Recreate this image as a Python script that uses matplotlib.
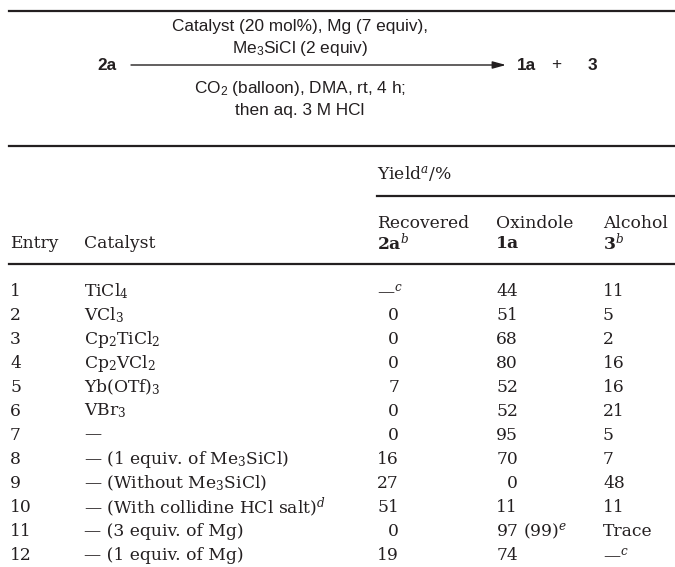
import matplotlib
matplotlib.use("Agg")
import matplotlib.pyplot as plt

plt.rcParams['mathtext.fontset'] = 'custom'
plt.rcParams['mathtext.rm'] = 'DejaVu Serif'
plt.rcParams['mathtext.it'] = 'DejaVu Serif:italic'
plt.rcParams['mathtext.bf'] = 'DejaVu Serif:bold'
plt.rcParams['mathtext.default'] = 'regular'

# Datos de la tabla
entries = [str(i) for i in range(1, 13)]
catalysts = ['TiCl$_4$', 'VCl$_3$', 'Cp$_2$TiCl$_2$', 'Cp$_2$VCl$_2$', 'Yb(OTf)$_3$',
             'VBr$_3$', '—', '— (1 equiv. of Me$_3$SiCl)', '— (Without Me$_3$SiCl)',
             '— (With collidine HCl salt)$^{\\it d}$', '— (3 equiv. of Mg)',
             '— (1 equiv. of Mg)']
recovered = ['—$^{\\it c}$', '0', '0', '0', '7', '0', '0', '16', '27', '51', '0', '19']
oxindole = ['44', '51', '68', '80', '52', '52', '95', '70', '0', '11',
            '97 (99)$^{\\it e}$', '74']
alcohol = ['11', '5', '2', '16', '16', '21', '5', '7', '48', '11', 'Trace', '—$^{\\it c}$']

ink = '#231f20'
serif = 'DejaVu Serif'
sans = 'Liberation Sans'
fs = 12.3
fs_s = 12.4

fig = plt.figure(figsize=(6.75, 5.67), dpi=100)
ax = fig.add_axes([0, 0, 1, 1])
ax.set_xlim(0, 675)
ax.set_ylim(567, 0)
ax.axis('off')

# Esquema de reacción
cx = 300
ax.plot([9, 675], [11, 11], color=ink, lw=1.6)
ax.text(cx, 27, 'Catalyst (20 mol%), Mg (7 equiv),', family=sans, fontsize=fs_s,
        ha='center', va='center', color=ink)
ax.text(cx, 48, 'Me$_3$SiCl (2 equiv)', family=sans, fontsize=fs_s,
        ha='center', va='center', color=ink)
ax.text(cx, 89, 'CO$_2$ (balloon), DMA, rt, 4 h;', family=sans, fontsize=fs_s,
        ha='center', va='center', color=ink)
ax.text(cx, 110, 'then aq. 3 M HCl', family=sans, fontsize=fs_s,
        ha='center', va='center', color=ink)
ax.text(97, 65, '2a', family=sans, fontsize=fs_s, weight='bold',
        ha='left', va='center', color=ink)
ax.annotate('', xy=(506, 65), xytext=(131, 65),
            arrowprops=dict(arrowstyle='-|>,head_length=0.8,head_width=0.22',
                            color=ink, lw=1.0, mutation_scale=10,
                            shrinkA=0, shrinkB=0))
ax.text(517, 65, '1a', family=sans, fontsize=fs_s, weight='bold',
        ha='left', va='center', color=ink)
ax.text(556, 65, '+', family=sans, fontsize=fs_s,
        ha='center', va='center', color=ink)
ax.text(588, 65, '3', family=sans, fontsize=fs_s, weight='bold',
        ha='left', va='center', color=ink)

# Cabecera de la tabla
x_entry, x_cat, x_rec, x_oxi, x_alc = 10, 84, 377, 496, 603
dig2 = 22  # ancho aproximado de dos cifras

ax.plot([9, 675], [146, 146], color=ink, lw=1.6)
ax.text(x_rec, 174, 'Yield$^{\\it a}$/%', family=serif, fontsize=fs,
        ha='left', va='center', color=ink)
ax.plot([x_rec, 675], [196, 196], color=ink, lw=1.6)
ax.text(x_rec, 224, 'Recovered', family=serif, fontsize=fs, ha='left', va='center', color=ink)
ax.text(x_oxi, 224, 'Oxindole', family=serif, fontsize=fs, ha='left', va='center', color=ink)
ax.text(x_alc, 224, 'Alcohol', family=serif, fontsize=fs, ha='left', va='center', color=ink)
ax.text(x_rec, 243, '2a$^{\\it b}$', family=serif, fontsize=fs, weight='bold',
        ha='left', va='center', color=ink)
ax.text(x_oxi, 243, '1a', family=serif, fontsize=fs, weight='bold',
        ha='left', va='center', color=ink)
ax.text(x_alc, 243, '3$^{\\it b}$', family=serif, fontsize=fs, weight='bold',
        ha='left', va='center', color=ink)
ax.text(x_entry, 243, 'Entry', family=serif, fontsize=fs, ha='left', va='center', color=ink)
ax.text(x_cat, 243, 'Catalyst', family=serif, fontsize=fs, ha='left', va='center', color=ink)
ax.plot([9, 675], [264, 264], color=ink, lw=1.6)


def put_value(x, y, s, right_num):
    if right_num and s.isdigit():
        ax.text(x + dig2, y, s, family=serif, fontsize=fs, ha='right', va='center', color=ink)
    else:
        ax.text(x, y, s, family=serif, fontsize=fs, ha='left', va='center', color=ink)


y0, dy = 291, 24
for i in range(len(entries)):
    y = y0 + i * dy
    ax.text(x_entry, y, entries[i], family=serif, fontsize=fs, ha='left', va='center', color=ink)
    ax.text(x_cat, y, catalysts[i], family=serif, fontsize=fs, ha='left', va='center', color=ink)
    put_value(x_rec, y, recovered[i], True)
    put_value(x_oxi, y, oxindole[i], True)
    put_value(x_alc, y, alcohol[i], False)

fig.savefig('out.png', dpi=100)
